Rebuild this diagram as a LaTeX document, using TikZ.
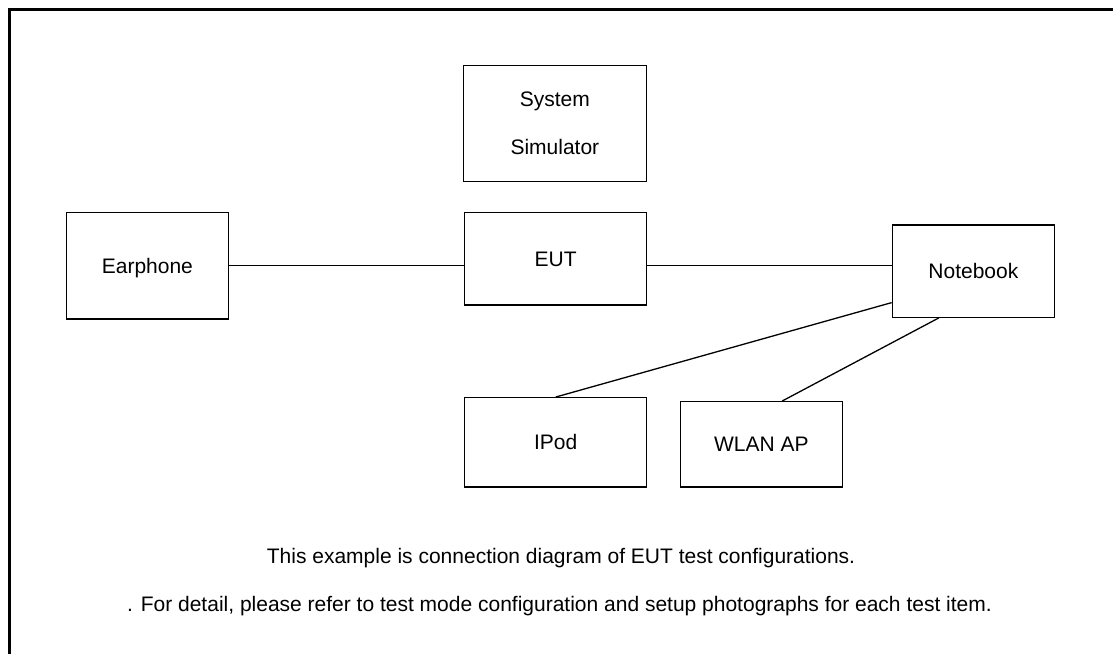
\documentclass[tikz,border=0pt]{standalone}
\usepackage{fontspec}
\setmainfont{Liberation Sans}
\usetikzlibrary{calc}
\begin{document}
\begin{tikzpicture}[x=1pt,y=-1pt,
  box/.style={draw=black,line width=1.2pt,rectangle,inner sep=0pt,
    font=\fontsize{21}{25}\selectfont,text height=15.1pt,text depth=0pt},
  wire/.style={draw=black,line width=1.3pt},
  frameline/.style={draw=black,line width=2.8pt},
  note/.style={anchor=base,inner sep=0pt,font=\fontsize{21}{25}\selectfont}]
\useasboundingbox (0,0) rectangle (1113,653);
% outer frame (top and left edges only)
\coordinate (fr) at (1114,9.4);
\coordinate (fc) at (9.2,9.4);
\coordinate (fb) at (9.2,654);
\draw[frameline] (fr) -- (fc) -- (fb);
% boxes
\node[box,minimum width=183pt,minimum height=116pt,align=center,
  text height=,text depth=,font=\fontsize{21}{48}\selectfont]
  (sim) at (554.9,123.7) {System\\Simulator};
\node[box,minimum width=181.7pt,minimum height=92.3pt] (eut) at (555.6,258.8) {EUT};
\node[box,minimum width=162.2pt,minimum height=106.5pt] (ear) at (147.4,265.7) {Earphone};
\node[box,minimum width=162.3pt,minimum height=92.3pt] (nb) at (973.4,271.1) {Notebook};
\node[box,minimum width=181.8pt,minimum height=89.3pt] (ipod) at (555.7,442.3) {IPod};
\node[box,minimum width=162pt,minimum height=85.3pt] (wlan) at (761.4,444.3) {WLAN AP};
% connectors
\draw[wire] (ear.east) -- (ear.east -| eut.west);
\draw[wire] (ear.east -| eut.east) -- (ear.east -| nb.west);
\draw[wire] ($(nb.south west)!0.163!(nb.north west)$) -- (ipod.north);
\draw[wire] ($(nb.south west)!0.289!(nb.south east)$) -- ($(wlan.north west)!0.627!(wlan.north east)$);
% notes
\node[note] (n1) at (561,563) {This example is connection diagram of EUT test configurations.};
\node[note] (n2) at (559.5,611) {. For detail, please refer to test mode configuration and setup photographs for each test item.};
\end{tikzpicture}
\end{document}
